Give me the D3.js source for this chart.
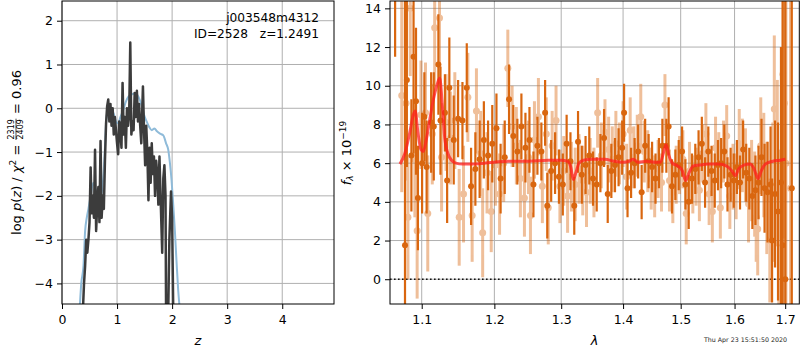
<!DOCTYPE html>
<html>
<head>
<meta charset="utf-8">
<script src="https://cdn.jsdelivr.net/npm/d3@7"></script>
<style>
  body { margin: 0; background: #fff; }
  svg { display: block; font-family: "DejaVu Sans"; }
</style>
</head>
<body>
<div id="chart-wrapper"></div>
<script>
// ---- Data ----
// left panel: redshift grid and log p(z)
let zTicks = [0, 1, 2, 3, 4]
let pTicks = [-4, -3, -2, -1, 0, 1, 2]
let pzCurve = [
  [0.38,-4.6],[0.40,-4.0],[0.42,-3.6],[0.44,-3.0],[0.46,-3.3],[0.48,-3.0],[0.50,-2.6],[0.52,-1.35],
  [0.54,-2.4],[0.56,-2.0],[0.58,-2.5],[0.60,-0.95],[0.62,-2.8],[0.64,-2.2],[0.66,-1.8],[0.68,-2.6],
  [0.70,-0.75],[0.72,-2.5],[0.74,-2.0],[0.76,-2.3],[0.78,-1.2],[0.80,-0.35],[0.82,0.05],[0.84,0.2],
  [0.86,-0.3],[0.88,0.1],[0.90,-0.4],[0.92,0.0],[0.94,-0.6],[0.96,-0.2],[0.98,-0.5],[1.00,-0.8],
  [1.02,-1.05],[1.04,-0.3],[1.06,-0.5],[1.08,-0.9],[1.10,0.58],[1.12,-0.6],[1.14,-0.2],[1.16,-0.9],
  [1.18,0.0],[1.20,-0.4],[1.22,-0.15],[1.24,1.5],[1.26,-0.6],[1.28,-0.3],[1.30,-0.5],[1.32,0.35],
  [1.34,-0.2],[1.36,0.4],[1.38,-0.3],[1.40,0.1],[1.42,-0.4],[1.44,-0.8],[1.47,0.5],[1.49,-0.5],
  [1.51,-1.3],[1.53,-0.4],[1.55,-1.0],[1.57,-2.1],[1.59,-0.9],[1.61,-1.7],[1.63,-0.8],[1.65,-1.5],
  [1.67,-1.1],[1.69,-2.0],[1.71,-1.2],[1.73,-1.5],[1.75,-2.2],[1.77,-1.1],[1.79,-2.0],[1.82,-3.3],
  [1.84,-1.6],[1.86,-1.3],[1.88,-2.0],[1.89,-4.6],[1.93,-4.6],[1.95,-3.0],[1.98,-1.9],[2.00,-2.5],[2.02,-4.6]
]
let pzSmooth = [
  [0.32,-4.6],[0.35,-4.0],[0.39,-3.6],[0.42,-2.8],[0.45,-2.5],[0.48,-2.3],[0.52,-2.0],[0.57,-1.7],
  [0.61,-1.85],[0.66,-2.02],[0.70,-2.0],[0.73,-1.85],[0.76,-1.4],[0.78,-0.9],[0.80,-0.35],[0.82,-0.12],
  [0.87,-0.05],[0.93,-0.1],[0.98,-0.3],[1.02,-0.34],[1.06,-0.2],[1.11,-0.05],[1.16,0.15],[1.21,0.27],
  [1.27,0.32],[1.32,0.34],[1.37,0.3],[1.41,0.2],[1.45,0.05],[1.49,-0.15],[1.53,-0.28],[1.58,-0.42],
  [1.63,-0.5],[1.68,-0.46],[1.72,-0.52],[1.78,-0.58],[1.84,-0.62],[1.89,-0.8],[1.93,-0.95],[1.96,-1.25],
  [1.99,-1.65],[2.02,-2.2],[2.05,-2.8],[2.08,-3.5],[2.11,-4.15],[2.14,-4.6]
]

// right panel: wavelength (micron), flux, error
let lamTicks = [1.1, 1.2, 1.3, 1.4, 1.5, 1.6, 1.7]
let fluxTicks = [0, 2, 4, 6, 8, 10, 12, 14]
let specDark = [
  [1.0655,15.5,4.0],[1.0782,1.75,17],[1.0806,10.3,4.5],[1.0865,6.4,2.9],[1.0893,11.5,5.0],[1.0925,9.2,3.8],
  [1.0950,4.2,2.7],[1.1005,6.0,2.6],[1.1035,8.4,2.3],[1.1065,5.8,2.4],[1.1125,8.1,2.6],[1.1160,7.9,2.8],
  [1.1222,11.1,2.6],[1.1250,8.2,2.8],[1.1310,8.6,2.0],[1.1340,5.1,2.2],[1.1370,9.9,2.6],[1.1430,7.2,2.3],
  [1.1490,8.3,2.0],[1.1550,8.2,2.0],[1.1610,9.9,2.3],[1.1670,4.8,2.0],[1.1730,5.7,1.9],[1.1790,6.2,2.0],
  [1.1850,7.2,2.0],[1.1910,6.4,1.8],[1.1970,7.0,2.0],[1.2030,7.8,1.8],[1.2090,5.2,1.8],[1.2150,6.3,1.9],
  [1.2213,9.3,1.8],[1.2275,7.4,1.6],[1.2335,6.6,1.7],[1.2395,7.9,1.7],[1.2455,6.8,1.8],[1.2515,7.2,1.7],
  [1.2575,4.9,1.7],[1.2635,6.9,1.5],[1.2695,6.6,1.5],[1.2752,8.6,1.7],[1.2785,3.8,1.7],[1.2845,5.6,1.6],
  [1.2905,6.0,1.6],[1.2965,5.3,1.4],[1.3025,4.9,1.6],[1.3085,7.0,1.5],[1.3145,6.1,1.5],[1.3205,3.8,1.5],
  [1.3265,7.1,1.6],[1.3325,5.4,1.5],[1.3385,5.9,1.5],[1.3445,6.4,1.5],[1.3505,5.2,1.4],[1.3565,4.9,1.4],
  [1.3625,6.0,1.5],[1.3685,7.3,1.5],[1.3745,4.4,1.5],[1.3805,5.6,1.4],[1.3865,5.9,1.4],[1.3925,6.3,1.5],
  [1.3985,6.8,1.4],[1.4017,8.6,1.5],[1.4075,4.7,1.5],[1.4135,5.5,1.3],[1.4195,6.0,1.3],[1.4255,6.6,1.4],
  [1.4315,4.5,1.4],[1.4375,6.9,1.4],[1.4435,6.1,1.4],[1.4495,5.8,1.3],[1.4555,5.2,1.3],[1.4615,6.0,1.3],
  [1.4675,6.9,1.4],[1.4745,6.9,1.4],[1.4785,7.9,1.5],[1.4845,4.8,1.4],[1.4905,5.4,1.3],[1.4965,5.9,1.3],
  [1.5025,6.6,1.3],[1.5085,4.9,1.3],[1.5145,4.0,1.4],[1.5205,5.2,1.3],[1.5265,5.7,1.3],[1.5325,6.3,1.4],
  [1.5385,7.0,1.4],[1.5445,5.0,1.3],[1.5505,6.6,1.3],[1.5565,5.6,1.3],[1.5625,5.1,1.4],[1.5685,5.9,1.3],
  [1.5745,6.0,1.3],[1.5805,6.6,1.4],[1.5865,4.9,1.4],[1.5925,5.4,1.4],[1.5985,5.1,1.4],[1.6045,5.8,1.4],
  [1.6105,5.0,1.4],[1.6165,6.7,1.5],[1.6225,5.5,1.5],[1.6285,5.2,1.6],[1.6345,4.3,1.7],[1.6405,4.6,1.8],
  [1.6465,5.0,1.9],[1.6525,6.3,2.0],[1.6585,4.7,2.3],[1.6645,4.5,2.6],[1.6705,4.9,3.0],[1.6735,2.0,3.2],
  [1.6795,4.4,3.8],[1.6855,3.5,4.6],[1.6915,5.0,7.0],[1.6950,1.75,14],[1.7003,0.0,18],[1.7135,4.7,20]
]
let specLight = [
  [1.0740,9.5,5.0],[1.0795,9.1,4.0],[1.0820,3.2,3.2],[1.0850,14.0,3.5],[1.0910,6.2,3.0],[1.0940,2.5,3.5],
  [1.0990,8.5,2.8],[1.1050,8.6,2.6],[1.1080,3.4,3.0],[1.1140,7.5,2.6],[1.1172,13.0,3.0],[1.1237,13.5,3.0],
  [1.1265,6.3,2.8],[1.1325,8.1,2.5],[1.1385,7.3,2.4],[1.1445,8.2,2.5],[1.1505,3.2,2.5],[1.1565,4.4,2.5],
  [1.1625,9.4,2.3],[1.1685,3.3,2.4],[1.1745,8.7,2.2],[1.1805,6.5,2.2],[1.1833,2.4,2.3],[1.1895,5.5,2.1],
  [1.1955,3.5,2.1],[1.2015,5.9,2.1],[1.2075,4.4,2.1],[1.2135,6.0,2.0],[1.2195,10.9,2.0],[1.2258,7.9,2.1],
  [1.2320,6.9,2.0],[1.2380,5.2,2.0],[1.2440,4.2,2.0],[1.2500,6.3,1.9],[1.2530,3.3,2.0],[1.2590,7.2,2.0],
  [1.2650,8.4,2.0],[1.2710,4.8,1.9],[1.2770,7.5,1.9],[1.2800,3.7,1.9],[1.2860,6.9,1.8],[1.2920,8.2,1.8],
  [1.2980,4.8,1.9],[1.3040,5.6,1.8],[1.3100,4.3,1.9],[1.3160,5.3,1.8],[1.3220,4.9,1.9],[1.3280,5.7,1.8],
  [1.3340,5.1,1.8],[1.3400,4.5,1.8],[1.3460,5.6,1.7],[1.3520,5.0,1.8],[1.3580,8.6,1.8],[1.3640,6.4,1.7],
  [1.3700,7.6,1.7],[1.3760,6.7,1.7],[1.3820,6.2,1.7],[1.3880,7.0,1.7],[1.3940,6.5,1.6],[1.4000,7.5,1.7],
  [1.4060,5.3,1.7],[1.4120,7.7,1.7],[1.4180,6.3,1.6],[1.4240,6.9,1.6],[1.4300,8.4,1.7],[1.4360,6.6,1.6],
  [1.4420,6.1,1.6],[1.4480,5.2,1.6],[1.4540,4.8,1.6],[1.4600,5.7,1.5],[1.4660,5.0,1.5],[1.4720,9.0,1.6],
  [1.4800,5.1,1.6],[1.4860,4.5,1.6],[1.4920,5.4,1.5],[1.4980,5.9,1.5],[1.5040,6.2,1.5],[1.5100,3.4,1.6],
  [1.5160,5.6,1.5],[1.5220,4.9,1.5],[1.5280,5.3,1.5],[1.5340,4.6,1.6],[1.5400,6.5,1.5],[1.5460,7.5,1.6],
  [1.5520,4.4,1.6],[1.5580,3.5,1.6],[1.5640,6.8,1.6],[1.5700,6.1,1.5],[1.5730,3.7,1.6],[1.5790,6.6,1.6],
  [1.5850,7.4,1.6],[1.5910,4.3,1.7],[1.5970,5.3,1.7],[1.6030,4.8,1.7],[1.6090,7.0,1.8],[1.6150,6.4,1.9],
  [1.6210,5.9,1.9],[1.6270,3.9,2.0],[1.6330,5.1,2.1],[1.6390,4.4,2.2],[1.6420,3.2,2.3],[1.6450,2.6,2.4],
  [1.6510,6.9,2.5],[1.6570,5.9,2.7],[1.6630,4.2,2.9],[1.6690,2.0,3.2],[1.6750,4.5,3.6],[1.6780,8.8,3.8],
  [1.6840,6.0,4.3],[1.6870,2.1,4.6],[1.6930,4.9,5.4],[1.6955,10.6,6.0],[1.6985,9.1,7.0],[1.7015,6.0,9.0],
  [1.7110,4.7,12]
]
let modelSpec = [
  [1.0717,5.95],[1.0780,6.5],[1.0840,7.5],[1.0890,8.5],[1.0915,8.7],[1.0950,7.6],[1.0990,6.7],[1.1020,6.6],
  [1.1060,7.2],[1.1100,8.1],[1.1150,9.2],[1.1200,10.0],[1.1240,10.4],[1.1275,9.0],[1.1310,7.2],[1.1350,6.5],
  [1.1400,6.15],[1.1460,6.0],[1.1550,5.95],[1.1700,5.95],[1.1850,6.0],[1.2000,6.05],[1.2200,6.1],[1.2500,6.1],
  [1.2800,6.15],[1.3000,6.15],[1.3100,6.1],[1.3150,5.8],[1.3190,5.15],[1.3230,5.5],[1.3280,6.0],[1.3350,6.15],
  [1.3500,6.2],[1.3700,6.2],[1.3850,6.1],[1.4000,6.05],[1.4100,6.1],[1.4170,6.2],[1.4250,6.05],[1.4400,6.1],
  [1.4550,6.05],[1.4640,6.05],[1.4700,6.6],[1.4740,6.95],[1.4790,6.4],[1.4850,6.0],[1.4950,5.85],[1.5030,5.6],
  [1.5090,5.1],[1.5150,5.5],[1.5230,5.85],[1.5350,5.9],[1.5500,5.95],[1.5700,5.95],[1.5850,5.85],[1.5950,5.6],
  [1.6015,5.35],[1.6080,5.7],[1.6180,5.9],[1.6300,5.95],[1.6380,5.7],[1.6456,5.2],[1.6520,5.6],[1.6600,5.95],
  [1.6750,6.1],[1.6900,6.15],[1.7003,6.2]
]

// ---- Layout ----
const width = 800
const height = 350
const font = "DejaVu Sans"
const tickFont = 12.5
let leftBox = {x0: 62, x1: 334, y0: 1, y1: 304}
let rightBox = {x0: 390, x1: 799.3, y0: 1, y1: 304}
let config = {
  grid: "#b0b0b0",
  pz: "#3c3c3c",
  pzSmooth: "#8fbbd9",
  orange: "#d9660f",
  model: "#ff1f1f"
}

var mainSvg = d3.select("#chart-wrapper")
  .append("svg")
  .attr("width", width)
  .attr("height", height)

var defs = mainSvg.append("defs")
const addClip = (id, b) => {
  defs.append("clipPath").attr("id", id)
    .append("rect").attr("x", b.x0).attr("y", b.y0).attr("width", b.x1 - b.x0).attr("height", b.y1 - b.y0)
}
addClip("clipLeft", leftBox)
addClip("clipRight", rightBox)

// Scales
var xZ = d3.scaleLinear().domain([0, 4.94]).range([leftBox.x0, leftBox.x1])
var yP = d3.scaleLinear().domain([-4.47, 2.45]).range([leftBox.y1, leftBox.y0])
var xLam = d3.scaleLog().domain([1.059, 1.729]).range([rightBox.x0, rightBox.x1])
var yFlux = d3.scaleLinear().domain([-1.28, 14.38]).range([rightBox.y1, rightBox.y0])

// Grid lines
const drawGrid = (xs, ys, xScale, yScale, b) => {
  var g = mainSvg.append("g").attr("stroke", config.grid).attr("stroke-width", 1)
  g.selectAll(".gx").data(xs).join("line")
    .attr("x1", d => xScale(d)).attr("x2", d => xScale(d))
    .attr("y1", b.y0).attr("y2", b.y1)
  g.selectAll(".gy").data(ys).join("line")
    .attr("x1", b.x0).attr("x2", b.x1)
    .attr("y1", d => yScale(d)).attr("y2", d => yScale(d))
}
drawGrid(zTicks, pTicks, xZ, yP, leftBox)
drawGrid(lamTicks, fluxTicks, xLam, yFlux, rightBox)

// ---- Left panel: p(z) ----
var leftPlot = mainSvg.append("g").attr("clip-path", "url(#clipLeft)")
leftPlot.append("path").datum(pzSmooth)
  .attr("d", d3.line().x(d => xZ(d[0])).y(d => yP(d[1])).curve(d3.curveMonotoneX))
  .attr("fill", "none").attr("stroke", config.pzSmooth).attr("stroke-width", 2)
leftPlot.append("path").datum(pzCurve)
  .attr("d", d3.line().x(d => xZ(d[0])).y(d => yP(d[1])))
  .attr("fill", "none").attr("stroke", config.pz).attr("stroke-width", 2.5)
  .attr("stroke-linejoin", "round")

// ---- Right panel: spectrum ----
var rightPlot = mainSvg.append("g").attr("clip-path", "url(#clipRight)")
rightPlot.append("line")
  .attr("x1", rightBox.x0).attr("x2", rightBox.x1)
  .attr("y1", yFlux(0)).attr("y2", yFlux(0))
  .attr("stroke", "#111").attr("stroke-width", 1.6).attr("stroke-dasharray", "1.6,2.4")

const drawErrors = (rows, opacity, barWidth, r) => {
  var g = rightPlot.append("g").attr("opacity", opacity)
  g.selectAll("line").data(rows).join("line")
    .attr("x1", d => xLam(d[0])).attr("x2", d => xLam(d[0]))
    .attr("y1", d => yFlux(d[1] - d[2])).attr("y2", d => yFlux(d[1] + d[2]))
    .attr("stroke", config.orange).attr("stroke-width", barWidth)
  g.selectAll("circle").data(rows).join("circle")
    .attr("cx", d => xLam(d[0])).attr("cy", d => yFlux(d[1]))
    .attr("r", r).attr("fill", config.orange)
}
drawErrors(specLight, 0.42, 3, 3.5)
drawErrors(specDark, 1, 2.2, 3)

rightPlot.append("path").datum(modelSpec)
  .attr("d", d3.line().x(d => xLam(d[0])).y(d => yFlux(d[1])).curve(d3.curveMonotoneX))
  .attr("fill", "none").attr("stroke", config.model).attr("stroke-width", 3)
  .attr("stroke-opacity", 0.75).attr("stroke-linejoin", "round")

// ---- Axes ----
const styleAxis = (g) => {
  g.select(".domain").remove()
  g.attr("font-size", tickFont).attr("font-family", font)
  g.selectAll("text").attr("fill", "#000")
  g.selectAll("line").attr("stroke", "#000").attr("stroke-width", 1)
}
mainSvg.append("g").attr("transform", `translate(0,${leftBox.y1})`)
  .call(d3.axisBottom(xZ).tickValues(zTicks).tickFormat(d3.format("d")).tickSizeInner(5).tickSizeOuter(0).tickPadding(6))
  .call(styleAxis)
mainSvg.append("g").attr("transform", `translate(${leftBox.x0},0)`)
  .call(d3.axisLeft(yP).tickValues(pTicks).tickFormat(d3.format("d")).tickSizeInner(5).tickSizeOuter(0).tickPadding(4))
  .call(styleAxis)
mainSvg.append("g").attr("transform", `translate(0,${rightBox.y1})`)
  .call(d3.axisBottom(xLam).tickValues(lamTicks).tickFormat(d3.format(".1f")).tickSizeInner(5).tickSizeOuter(0).tickPadding(6))
  .call(styleAxis)
mainSvg.append("g").attr("transform", `translate(${rightBox.x0},0)`)
  .call(d3.axisLeft(yFlux).tickValues(fluxTicks).tickFormat(d3.format("d")).tickSizeInner(5).tickSizeOuter(0).tickPadding(4))
  .call(styleAxis)

// Spines
;[leftBox, rightBox].forEach(b => {
  mainSvg.append("rect")
    .attr("x", b.x0).attr("y", b.y0).attr("width", b.x1 - b.x0).attr("height", b.y1 - b.y0)
    .attr("fill", "none").attr("stroke", "#000").attr("stroke-width", 1)
})

// ---- Labels ----
// lays out text pieces one after the other in a (possibly rotated) group
const mathLabel = (x, y, rotate, parts, size) => {
  var g = mainSvg.append("g").attr("transform", `translate(${x},${y}) rotate(${rotate})`)
    .attr("font-family", font).attr("fill", "#000")
  var inner = g.append("g")
  var cursor = 0
  parts.forEach(p => {
    if (p.num) {
      var n = inner.append("text").attr("font-size", p.size).attr("text-anchor", "middle").text(p.num)
      var d = inner.append("text").attr("font-size", p.size).attr("text-anchor", "middle").text(p.den)
      var w = Math.max(n.node().getComputedTextLength(), d.node().getComputedTextLength()) + 2
      n.attr("x", cursor + w / 2).attr("y", p.numY)
      d.attr("x", cursor + w / 2).attr("y", p.denY)
      inner.append("line")
        .attr("x1", cursor + 0.5).attr("x2", cursor + w - 0.5)
        .attr("y1", p.barY).attr("y2", p.barY)
        .attr("stroke", "#000").attr("stroke-width", 0.7)
      cursor += w
    } else {
      var t = inner.append("text")
        .attr("x", cursor).attr("y", p.dy || 0)
        .attr("font-size", p.size || size)
        .attr("font-style", p.italic ? "italic" : null)
        .style("white-space", "pre")
        .text(p.text)
      cursor += t.node().getComputedTextLength()
    }
  })
  inner.attr("transform", `translate(${-cursor / 2},0)`)
}

mathLabel(20.5, 152.5, -90, [
  {text: "log "},
  {text: "p", italic: true},
  {text: "("},
  {text: "z", italic: true},
  {text: ") / "},
  {text: "χ", italic: true},
  {text: "2", size: 9, dy: -5},
  {text: " = "},
  {num: "2319", den: "2409", size: 8, numY: -6.5, denY: 2, barY: -4.5},
  {text: " = 0.96"}
], 13)

mathLabel(350.5, 153, -90, [
  {text: "f", italic: true},
  {text: "λ", italic: true, size: 9, dy: 2.5},
  {text: " × 10"},
  {text: "−19", size: 9, dy: -5}
], 13)

mathLabel(198, 345, 0, [{text: "z", italic: true}], 13)
mathLabel(594.6, 345, 0, [{text: "λ", italic: true}], 13)

// Object annotation
var note = mainSvg.append("g").attr("font-family", font).attr("font-size", 12.2)
  .attr("text-anchor", "end").attr("fill", "#000")
note.append("text").attr("x", 319).attr("y", 22).text("j003548m4312")
note.append("text").attr("x", 319).attr("y", 38).style("white-space", "pre").text("ID=2528   z=1.2491")

// Timestamp
mainSvg.append("text")
  .attr("x", 787).attr("y", 341.5)
  .attr("text-anchor", "end")
  .attr("font-family", font).attr("font-size", 6.3)
  .attr("fill", "#222")
  .text("Thu Apr 23 15:51:50 2020")
</script>
</body>
</html>
